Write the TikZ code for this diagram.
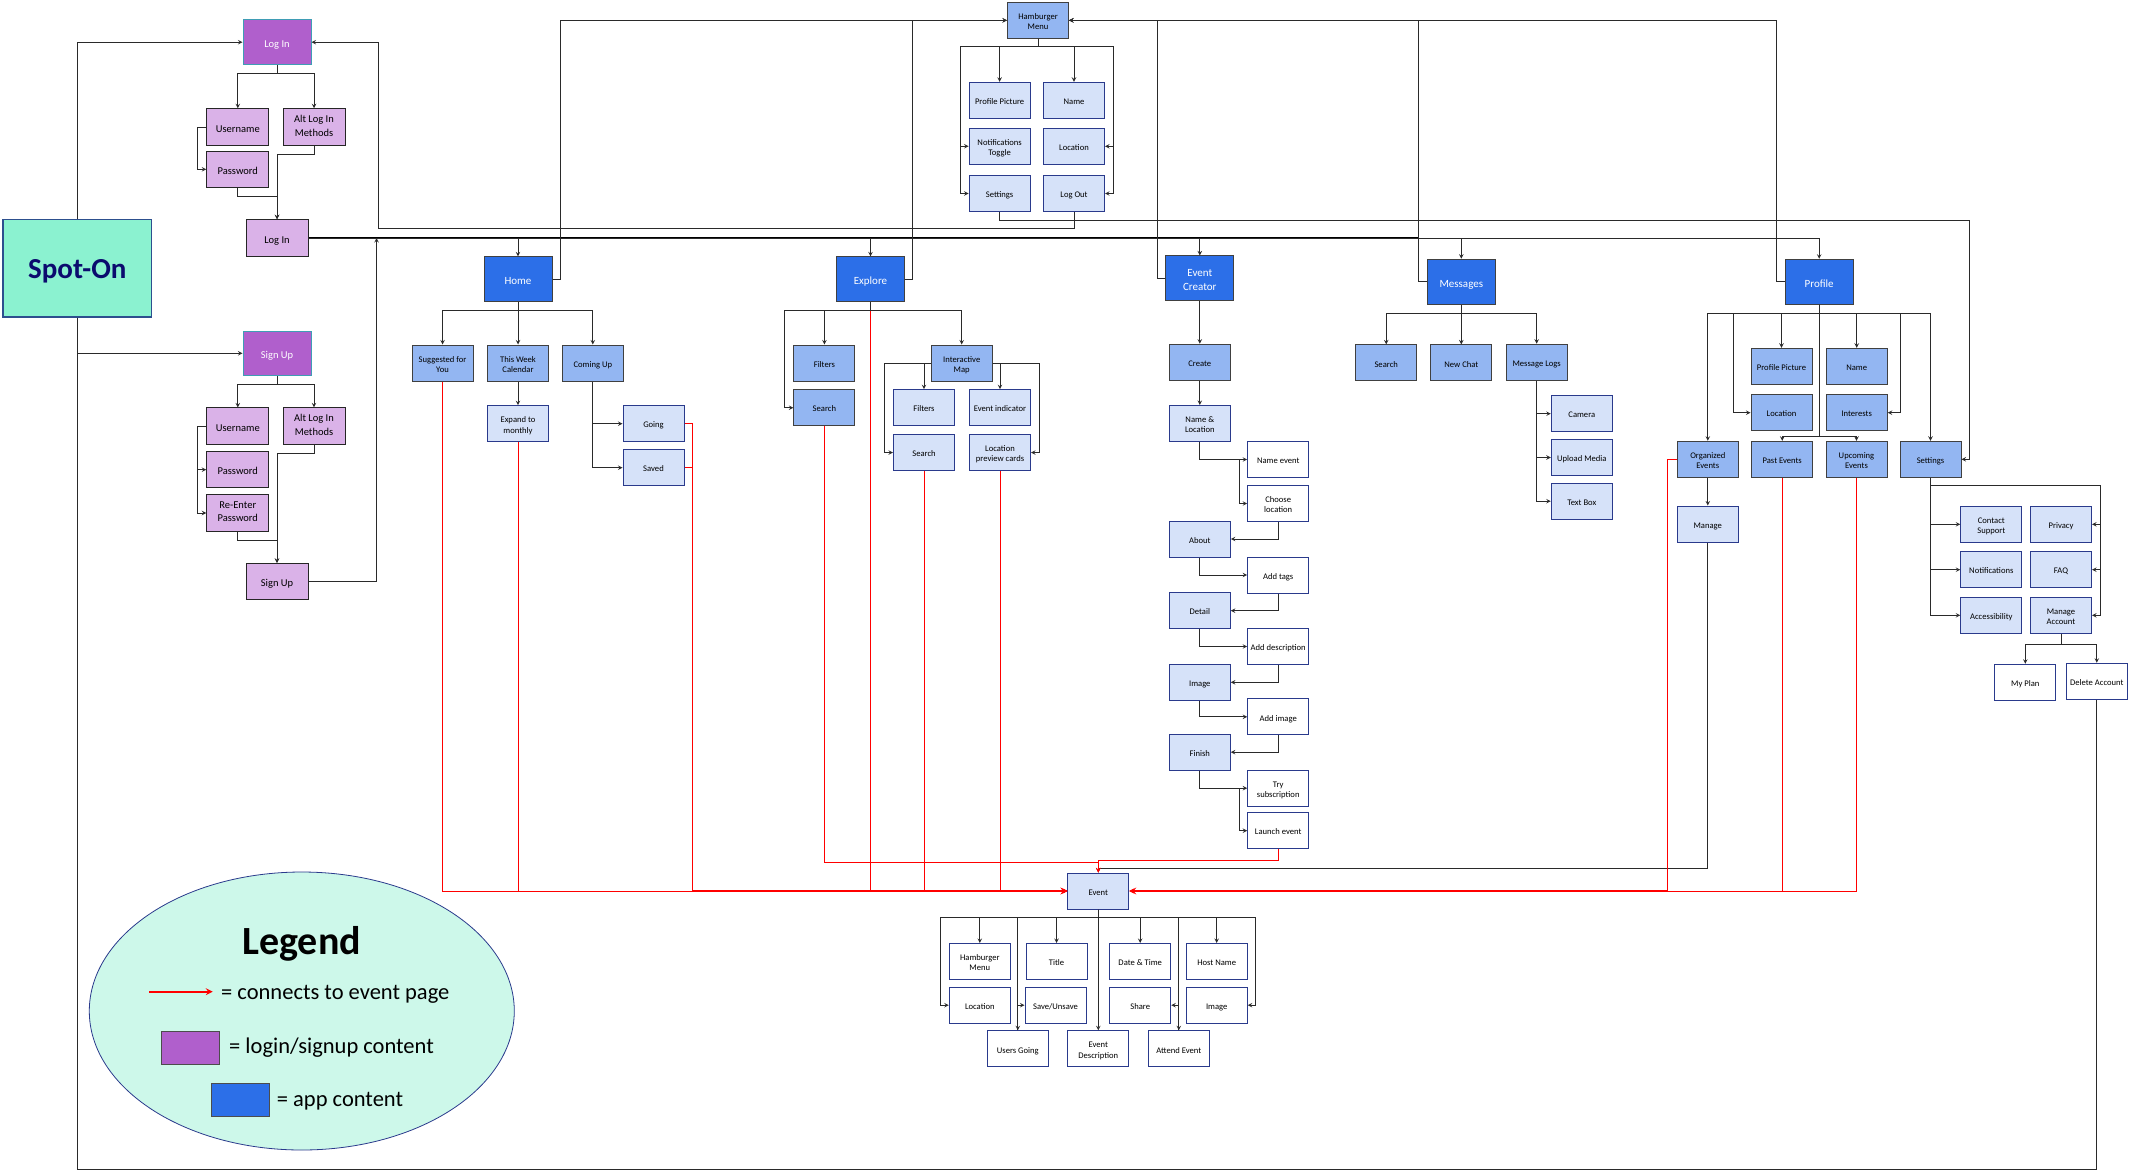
\documentclass[tikz,border=0pt]{standalone}
\usepackage{fontspec}
\setmainfont{Carlito}
\usetikzlibrary{positioning}
\usetikzlibrary{shapes.geometric}

\definecolor{spotfill}{HTML}{8BF2D0}
\definecolor{spotline}{HTML}{2D4F8E}
\definecolor{spotink}{HTML}{0B0B6E}
\definecolor{legendfill}{HTML}{CDF8EA}
\definecolor{purplehead}{HTML}{B05FCC}
\definecolor{purplelight}{HTML}{DAB2E8}
\definecolor{purpleline}{HTML}{3F9DB5}
\definecolor{appblue}{HTML}{2C6FE8}
\definecolor{midblue}{HTML}{93B6F2}
\definecolor{lightblue}{HTML}{D6E2F9}
\definecolor{navyline}{HTML}{2A3A8C}
\definecolor{linkgray}{HTML}{2A2A2A}

\begin{document}
\begin{tikzpicture}[x=1pt, y=-1pt,
    box/.style={draw, align=center, inner sep=0pt, minimum width=61pt, minimum height=36pt, line width=1pt,
                font=\fontsize{8.6}{10.4}\selectfont,
                execute at begin node={\rule{0pt}{1.22em}},
                execute at end node={\rule[-.23em]{0pt}{0pt}}},
    twoline/.style={execute at begin node={\rule{0pt}{2.43em}}},
    loginhead/.style={box, fill=purplehead, draw=purpleline, text=white, minimum width=68pt, minimum height=44.5pt,
                font=\fontsize{10.5}{13.5}\selectfont},
    loginbox/.style={box, fill=purplelight, draw=black!85, minimum width=62pt, minimum height=36.5pt,
                font=\fontsize{10.5}{13.5}\selectfont},
    appbox/.style={box, fill=appblue, draw=black!75, text=white, minimum width=68pt, minimum height=45pt,
                font=\fontsize{11}{14}\selectfont},
    midbox/.style={box, fill=midblue, draw=black!75},
    lightbox/.style={box, fill=lightblue, draw=navyline},
    whitebox/.style={box, fill=white, draw=navyline},
    link/.style={draw=linkgray, line width=1pt, -stealth},
    plainlink/.style={draw=linkgray, line width=1pt},
    trunk/.style={draw=black, line width=2pt},
    redlink/.style={draw=red, line width=1pt, -stealth},
    redplain/.style={draw=red, line width=1pt},
    redtrunk/.style={draw=red, line width=2pt, -stealth},
    legendtext/.style={anchor=west, inner sep=0pt, font=\fontsize{22.5}{25}\selectfont}]

            \useasboundingbox (0,0) rectangle (2131,1173);

            % legend
            \node[draw=navyline, fill=legendfill, ellipse, line width=0.8pt, minimum width=425pt, minimum height=278pt, inner sep=0pt] (legendoval) at (301.8,1011) {};
            \node[inner sep=0pt, font=\fontsize{40}{43}\selectfont\bfseries] (legendtitle) at (301.7,943.5) {Legend};
            \coordinate (legendfrom) at (149,991.7);
            \coordinate (legendto) at (212.7,991.7);
            \draw[redlink, line width=2pt] (legendfrom) -- (legendto);
            \node[legendtext] (legendred) at (221,994.5) {= connects to event page};
            \node[draw=black!70, fill=purplehead, line width=1pt, minimum width=57.7pt, minimum height=33pt, inner sep=0pt] (legendpurple) at (190.8,1047.5) {};
            \node[legendtext] (legendlogin) at (229,1047.5) {= login/signup content};
            \node[draw=black!70, fill=appblue, line width=1pt, minimum width=58pt, minimum height=33.4pt, inner sep=0pt] (legendblue) at (240.7,1100) {};
            \node[legendtext] (legendapp) at (276.7,1101.5) {= app content};

            % start and log in / sign up
            \node[draw=spotline, fill=spotfill, line width=1.2pt, minimum width=148.5pt, minimum height=97.5pt, inner sep=0pt, text=spotink, font=\fontsize{29}{32}\selectfont\bfseries,
                  execute at begin node={\rule{0pt}{.95em}}, execute at end node={\rule[-.23em]{0pt}{0pt}}] (spot) at (77.25,268.25) {Spot-On};

            \node[loginhead] (loginhead) at (277,42.2) {Log In};
            \node[loginbox] (lusername) at (237.8,127) {Username};
            \node[loginbox] (lalt) at (314,127) {Alt Log In\\Methods};
            \node[loginbox] (lpassword) at (237.8,169.3) {Password};
            \node[loginbox] (loginbtn) at (277,238) {Log In};

            \node[loginhead] (signuphead) at (277,353.3) {Sign Up};
            \node[loginbox] (susername) at (237.8,426.2) {Username};
            \node[loginbox] (salt) at (314,426.2) {Alt Log In\\Methods};
            \node[loginbox] (spassword) at (237.8,469.7) {Password};
            \node[loginbox] (sreenter) at (237.8,513) {Re-Enter\\Password};
            \node[loginbox] (signupbtn) at (277,581.7) {Sign Up};

            % home
            \node[appbox] (home) at (518,279.4) {Home};
            \node[midbox, twoline] (suggested) at (442.5,363) {Suggested for\\You};
            \node[midbox, twoline] (weekcal) at (518,363) {This Week\\Calendar};
            \node[midbox] (comingup) at (592.8,363) {Coming Up};
            \node[lightbox, twoline] (expand) at (518,423.7) {Expand to\\monthly};
            \node[lightbox] (going) at (653.5,423.7) {Going};
            \node[lightbox] (saved) at (653.5,467.7) {Saved};

            % explore
            \node[appbox] (explore) at (870.5,279.4) {Explore};
            \node[midbox] (efilters) at (824.4,363) {Filters};
            \node[midbox] (esearch) at (824.4,407.7) {Search};
            \node[midbox, twoline] (intermap) at (961.7,363) {Interactive\\Map};
            \node[lightbox] (mfilters) at (924,407.7) {Filters};
            \node[lightbox] (mindicator) at (1000,407.7) {Event indicator};
            \node[lightbox] (msearch) at (924,452.5) {Search};
            \node[lightbox, twoline] (mcards) at (1000,452.5) {Location\\preview cards};

            % hamburger menu
            \node[midbox, twoline] (hamburger) at (1038,20.3) {Hamburger\\Menu};
            \node[lightbox] (hpicture) at (999.6,100.3) {Profile Picture};
            \node[lightbox] (hname) at (1074,100.3) {Name};
            \node[lightbox, twoline] (hnotify) at (999.6,146.3) {Notifications\\Toggle};
            \node[lightbox] (hlocation) at (1074,146.3) {Location};
            \node[lightbox] (hsettings) at (999.6,193.5) {Settings};
            \node[lightbox] (hlogout) at (1074,193.5) {Log Out};

            % event creator
            \node[appbox, twoline] (creator) at (1199.8,278.4) {Event\\Creator};
            \node[midbox] (create) at (1199.8,362.2) {Create};
            \node[lightbox, twoline] (namelocation) at (1199.8,423.5) {Name \&\\Location};
            \node[whitebox] (nameevent) at (1278.2,459.5) {Name event};
            \node[whitebox, twoline] (chooselocation) at (1278.2,503.5) {Choose\\location};
            \node[lightbox] (about) at (1199.8,539) {About};
            \node[whitebox] (addtags) at (1278.2,575) {Add tags};
            \node[lightbox] (detail) at (1199.8,610.7) {Detail};
            \node[whitebox] (adddescription) at (1278.2,646.5) {Add description};
            \node[lightbox] (image) at (1199.8,682.3) {Image};
            \node[whitebox] (addimage) at (1278.2,716.8) {Add image};
            \node[lightbox] (finish) at (1199.8,752.2) {Finish};
            \node[whitebox, twoline] (trysub) at (1278.2,788.2) {Try\\subscription};
            \node[whitebox] (launch) at (1278.2,830.7) {Launch event};

            % messages
            \node[appbox] (messages) at (1461.3,281.7) {Messages};
            \node[midbox] (msgsearch) at (1386.2,362.9) {Search};
            \node[midbox] (newchat) at (1461.3,362.9) {New Chat};
            \node[midbox] (msglogs) at (1536.7,362.2) {Message Logs};
            \node[lightbox] (camera) at (1581.8,413.7) {Camera};
            \node[lightbox] (upload) at (1581.8,457.5) {Upload Media};
            \node[lightbox] (textbox) at (1581.8,501.2) {Text Box};

            % profile
            \node[appbox] (profile) at (1819.2,281.8) {Profile};
            \node[midbox] (ppicture) at (1781.5,366.3) {Profile Picture};
            \node[midbox] (pname) at (1856.7,366.3) {Name};
            \node[midbox] (plocation) at (1781.5,412.7) {Location};
            \node[midbox] (pinterests) at (1856.7,412.7) {Interests};
            \node[midbox, twoline] (organized) at (1707.8,459.3) {Organized\\Events};
            \node[midbox] (past) at (1782.2,459.3) {Past Events};
            \node[midbox, twoline] (upcoming) at (1856.5,459.3) {Upcoming\\Events};
            \node[midbox] (psettings) at (1930.5,459.3) {Settings};
            \node[lightbox] (manage) at (1707.8,524) {Manage};
            \node[lightbox, twoline] (contact) at (1991.3,524.3) {Contact\\Support};
            \node[lightbox] (privacy) at (2061,524.3) {Privacy};
            \node[lightbox] (notifications) at (1991.3,569.7) {Notifications};
            \node[lightbox] (faq) at (2061,569.7) {FAQ};
            \node[lightbox] (accessibility) at (1991.3,615.3) {Accessibility};
            \node[lightbox, twoline] (manageaccount) at (2061,615.3) {Manage\\Account};
            \node[whitebox] (myplan) at (2025.3,682.3) {My Plan};
            \node[whitebox] (deleteaccount) at (2096.8,681.3) {Delete Account};

            % event page
            \node[lightbox] (event) at (1098.3,891) {Event};
            \node[whitebox, twoline] (evhamburger) at (979.8,961.5) {Hamburger\\Menu};
            \node[whitebox] (evtitle) at (1056.5,961.5) {Title};
            \node[whitebox] (evdate) at (1140.2,961.5) {Date \& Time};
            \node[whitebox] (evhost) at (1216.7,961.5) {Host Name};
            \node[whitebox] (evlocation) at (979.8,1005.2) {Location};
            \node[whitebox] (evsave) at (1055.5,1005.2) {Save/Unsave};
            \node[whitebox] (evshare) at (1140.2,1005.2) {Share};
            \node[whitebox] (evimage) at (1216.7,1005.2) {Image};
            \node[whitebox] (evusers) at (1017.8,1048.8) {Users Going};
            \node[whitebox, twoline] (evdescription) at (1098.3,1048.8) {Event\\Description};
            \node[whitebox] (evattend) at (1178.8,1048.8) {Attend Event};

            % turning points of the long lines
            \coordinate (floor) at (77.25,1169);
            \coordinate (loginreturn) at (378,228);
            \coordinate (settingsturn) at (1969,220);
            \coordinate (signupjoin) at (376.5,238);
            \coordinate (trunkend) at (1419,238);
            \coordinate (redjoinl) at (692,891);
            \coordinate (redjoinr) at (1667,891);
            \coordinate (managedrop) at (1098.3,868);
            \coordinate (searchdrop) at (1098.3,862.3);
            \coordinate (launchdrop) at (1098.3,860.3);

            % this one starts under the boxes' bus
            \draw[redlink] (explore.south) -- (explore.south |- event.west) -- (event.west);

            % spot-on
            \draw[link] (spot.north) |- (loginhead.west);
            \draw[link] (spot.south) |- (signuphead.west);
            \draw[plainlink] (deleteaccount.south) |- (floor) -- (spot.south);

            % log in
            \draw[link] (loginhead.south) -- ++(0,9) -| (lusername.north);
            \draw[link] (loginhead.south) -- ++(0,9) -| (lalt.north);
            \draw[link] (lusername.west) -- ++(-8.8,0) |- (lpassword.west);
            \draw[link] (lpassword.south) -- ++(0,8.2) -| (loginbtn.north);
            \draw[link] (lalt.south) -- ++(0,8.4) -| (loginbtn.north);

            % sign up
            \draw[link] (signuphead.south) -- ++(0,8.4) -| (susername.north);
            \draw[link] (signuphead.south) -- ++(0,8.4) -| (salt.north);
            \draw[link] (susername.west) -- ++(-8.8,0) |- (spassword.west);
            \draw[link] (susername.west) -- ++(-8.8,0) |- (sreenter.west);
            \draw[link] (sreenter.south) -- ++(0,8.3) -| (signupbtn.north);
            \draw[link] (salt.south) -- ++(0,8.2) -| (signupbtn.north);
            \draw[link] (signupbtn.east) -| (signupjoin);

            % the long line out of log in
            \draw[trunk] (loginbtn.east) -- (trunkend);
            \draw[link] (loginbtn.east) -| (home.north);
            \draw[link] (loginbtn.east) -| (explore.north);
            \draw[link] (loginbtn.east) -| (creator.north);
            \draw[link] (loginbtn.east) -| (messages.north);
            \draw[link] (loginbtn.east) -| (profile.north);

            % back to hamburger menu
            \draw[link] (home.east) -- ++(7.5,0) |- (hamburger.west);
            \draw[link] (explore.east) -- ++(7.5,0) |- (hamburger.west);
            \draw[link] (creator.west) -- ++(-8,0) |- (hamburger.east);
            \draw[link] (messages.west) -- ++(-8.7,0) |- (hamburger.east);
            \draw[link] (profile.west) -- ++(-8,0) |- (hamburger.east);

            % hamburger menu
            \draw[link] (hamburger.south) -- ++(0,8) -| (hpicture.north);
            \draw[link] (hamburger.south) -- ++(0,8) -| (hname.north);
            \draw[link] (hamburger.south) -- ++(0,8) -| ([xshift=-8pt]hnotify.west) |- (hnotify.west);
            \draw[link] (hamburger.south) -- ++(0,8) -| ([xshift=-8pt]hsettings.west) |- (hsettings.west);
            \draw[link] (hamburger.south) -- ++(0,8) -| ([xshift=8pt]hlocation.east) |- (hlocation.east);
            \draw[link] (hamburger.south) -- ++(0,8) -| ([xshift=8pt]hlogout.east) |- (hlogout.east);
            \draw[link] (hlogout.south) |- (loginreturn) |- (loginhead.east);
            \draw[link] (hsettings.south) |- (settingsturn) |- (psettings.east);

            % home
            \draw[link] (home.south) -- ++(0,8.5) -| (suggested.north);
            \draw[link] (home.south) -- (weekcal.north);
            \draw[link] (home.south) -- ++(0,8.5) -| (comingup.north);
            \draw[link] (weekcal.south) -- (expand.north);
            \draw[link] (comingup.south) |- (going.west);
            \draw[link] (comingup.south) |- (saved.west);

            % explore
            \draw[link] (explore.south) -- ++(0,8.5) -| (efilters.north);
            \draw[link] (explore.south) -- ++(0,8.5) -| (intermap.north);
            \draw[link] (explore.south) -- ++(0,8.5) -| ([xshift=-8.5pt]esearch.west) |- (esearch.west);
            \draw[link] (intermap.west) -| (mfilters.north);
            \draw[link] (intermap.east) -| (mindicator.north);
            \draw[link] (intermap.west) -| ([xshift=-8.5pt]msearch.west) |- (msearch.west);
            \draw[link] (intermap.east) -| ([xshift=8pt]mcards.east) |- (mcards.east);

            % event creator
            \draw[link] (creator.south) -- (create.north);
            \draw[link] (create.south) -- (namelocation.north);
            \draw[link] (namelocation.south) |- (nameevent.west);
            \draw[link] (namelocation.south) |- ([xshift=-8pt]nameevent.west) |- (chooselocation.west);
            \draw[link] (chooselocation.south) |- (about.east);
            \draw[link] (about.south) |- (addtags.west);
            \draw[link] (addtags.south) |- (detail.east);
            \draw[link] (detail.south) |- (adddescription.west);
            \draw[link] (adddescription.south) |- (image.east);
            \draw[link] (image.south) |- (addimage.west);
            \draw[link] (addimage.south) |- (finish.east);
            \draw[link] (finish.south) |- (trysub.west);
            \draw[link] (finish.south) |- ([xshift=-8pt]trysub.west) |- (launch.west);

            % messages
            \draw[link] (messages.south) -- ++(0,9) -| (msgsearch.north);
            \draw[link] (messages.south) -- (newchat.north);
            \draw[link] (messages.south) -- ++(0,9) -| (msglogs.north);
            \draw[link] (msglogs.south) |- (camera.west);
            \draw[link] (msglogs.south) |- (upload.west);
            \draw[link] (msglogs.south) |- (textbox.west);

            % profile
            \draw[link] (profile.south) -- ++(0,8.4) -| (organized.north);
            \draw[link] (profile.south) -- ++(0,8.4) -| (ppicture.north);
            \draw[link] (profile.south) -- ++(0,8.4) -| (pname.north);
            \draw[link] (profile.south) -- ++(0,8.4) -| (psettings.north);
            \draw[link] (profile.south) -- ++(0,8.4) -| ([xshift=-17pt]plocation.west) |- (plocation.west);
            \draw[link] (profile.south) -- ++(0,8.4) -| ([xshift=13pt]pinterests.east) |- (pinterests.east);
            \draw[link] (profile.south) -- ++(0,131.4) -| (past.north);
            \draw[link] (profile.south) -- ++(0,131.4) -| (upcoming.north);
            \draw[link] (organized.south) -- (manage.north);
            \draw[link] (manage.south) |- (managedrop) -- (event.north);

            % settings
            \draw[link] (psettings.south) |- (contact.west);
            \draw[link] (psettings.south) |- (notifications.west);
            \draw[link] (psettings.south) |- (accessibility.west);
            \draw[link] (psettings.south) -- ++(0,8) -| ([xshift=8.3pt]privacy.east) |- (privacy.east);
            \draw[link] (psettings.south) -- ++(0,8) -| ([xshift=8.3pt]faq.east) |- (faq.east);
            \draw[link] (psettings.south) -- ++(0,8) -| ([xshift=8.3pt]manageaccount.east) |- (manageaccount.east);
            \draw[link] (manageaccount.south) -- ++(0,10.4) -| (myplan.north);
            \draw[link] (manageaccount.south) -- ++(0,10.4) -| (deleteaccount.north);

            % event page
            \draw[link] (event.south) -- ++(0,8.3) -| (evhamburger.north);
            \draw[link] (event.south) -- ++(0,8.3) -| (evtitle.north);
            \draw[link] (event.south) -- ++(0,8.3) -| (evdate.north);
            \draw[link] (event.south) -- ++(0,8.3) -| (evhost.north);
            \draw[link] (event.south) -- (evdescription.north);
            \draw[link] (event.south) -- ++(0,8.3) -| (evusers.north);
            \draw[link] (event.south) -- ++(0,8.3) -| (evattend.north);
            \draw[link] (evusers.north) |- (evsave.west);
            \draw[link] (evattend.north) |- (evshare.east);
            \draw[link] (event.south) -- ++(0,8.3) -| ([xshift=-8pt]evlocation.west) |- (evlocation.west);
            \draw[link] (event.south) -- ++(0,8.3) -| ([xshift=8pt]evimage.east) |- (evimage.east);

            % red lines to the event page
            \draw[redlink] (suggested.south) |- (event.west);
            \draw[redlink] (expand.south) |- (event.west);
            \draw[redplain] (going.east) -| (redjoinl);
            \draw[redplain] (saved.east) -| (redjoinl);
            \draw[redlink] (msearch.south) |- (event.west);
            \draw[redlink] (mcards.south) |- (event.west);
            \draw[redtrunk] (redjoinl) -- (event.west);
            \draw[redlink] (esearch.south) |- (searchdrop) -- (event.north);
            \draw[redlink] (launch.south) |- (launchdrop) -- (event.north);
            \draw[redplain] (organized.west) -| (redjoinr);
            \draw[redlink] (past.south) |- (event.east);
            \draw[redlink] (upcoming.south) |- (event.east);
            \draw[redtrunk] (redjoinr) -- (event.east);
\end{tikzpicture}
\end{document}
